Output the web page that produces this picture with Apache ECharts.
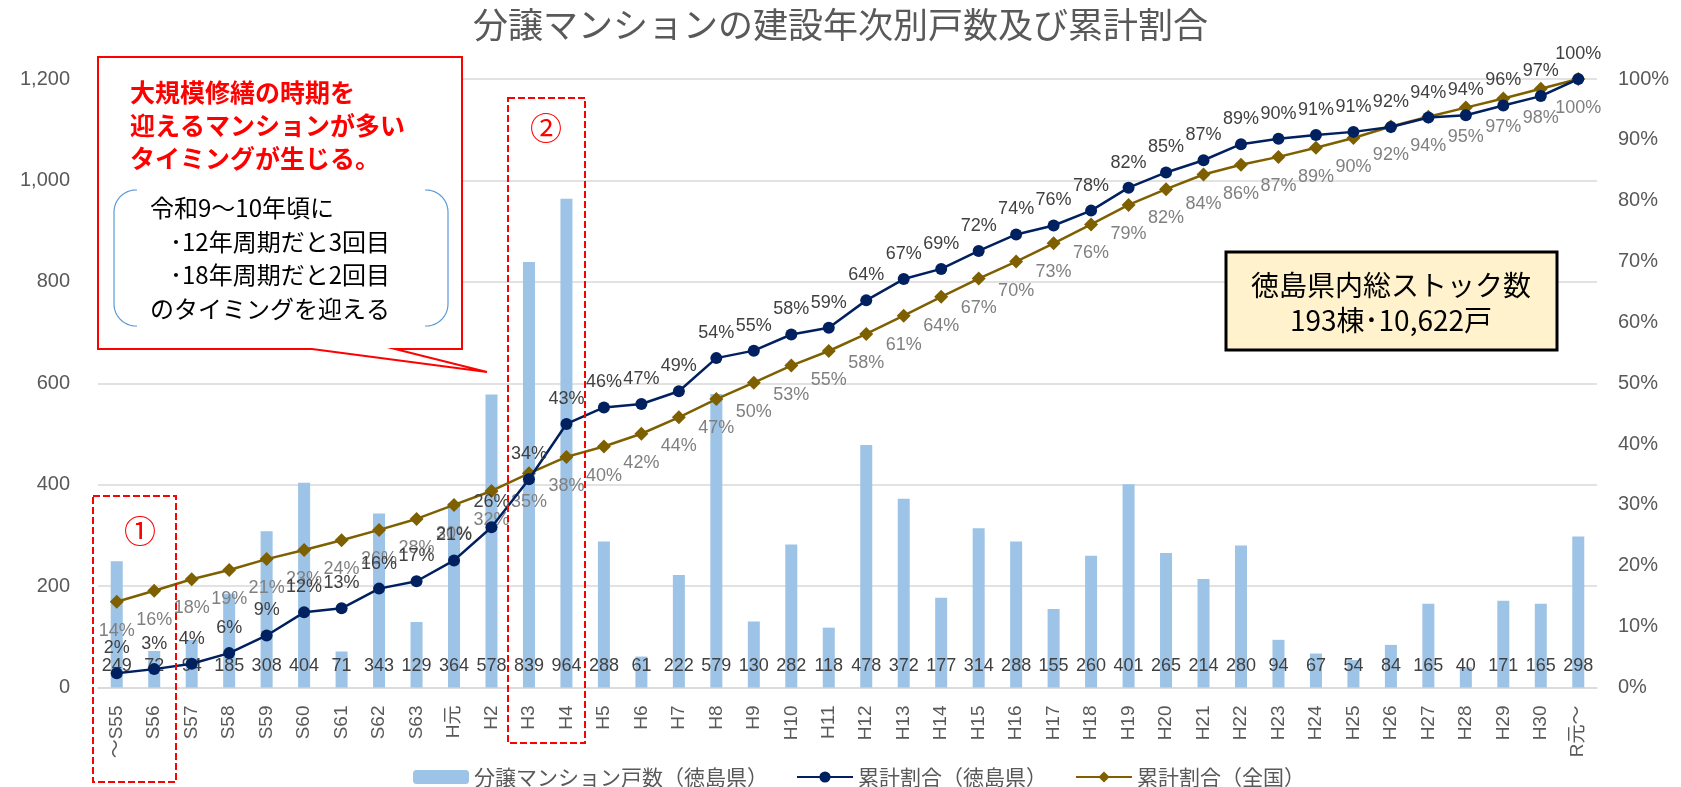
<!DOCTYPE html>
<html lang="ja">
<head>
<meta charset="utf-8">
<title>分譲マンションの建設年次別戸数及び累計割合</title>
<script src="https://cdn.jsdelivr.net/npm/echarts@6/dist/echarts.min.js"></script>
<style>
  html, body { margin: 0; padding: 0; background: #fff; }
  #chart { width: 1681px; height: 787px; }
</style>
</head>
<body>
<div id="chart"></div>
<script>
// 建設年次（和暦）
const categories = [
  '〜S55', 'S56', 'S57', 'S58', 'S59', 'S60', 'S61', 'S62', 'S63', 'H元',
  'H2', 'H3', 'H4', 'H5', 'H6', 'H7', 'H8', 'H9', 'H10', 'H11',
  'H12', 'H13', 'H14', 'H15', 'H16', 'H17', 'H18', 'H19', 'H20', 'H21',
  'H22', 'H23', 'H24', 'H25', 'H26', 'H27', 'H28', 'H29', 'H30', 'R元〜'
];

// 分譲マンション戸数（徳島県）
const units = [
  249, 72, 94, 185, 308, 404, 71, 343, 129, 364,
  578, 839, 964, 288, 61, 222, 579, 130, 282, 118,
  478, 372, 177, 314, 288, 155, 260, 401, 265, 214,
  280, 94, 67, 54, 84, 165, 40, 171, 165, 298
];

// 累計割合（徳島県）
const shareTokushima = [
  0.0234, 0.0302, 0.0391, 0.0565, 0.0855, 0.1235, 0.1302, 0.1625, 0.1746, 0.2089,
  0.2633, 0.3423, 0.4331, 0.4602, 0.4659, 0.4868, 0.5413, 0.5536, 0.5801, 0.5912,
  0.6362, 0.6712, 0.6879, 0.7175, 0.7446, 0.7592, 0.7837, 0.8214, 0.8464, 0.8665,
  0.8929, 0.9017, 0.9080, 0.9131, 0.9210, 0.9366, 0.9403, 0.9564, 0.9719, 1.0000
];

// 累計割合（全国）
const shareNation = [
  0.141, 0.159, 0.178, 0.193, 0.211, 0.226, 0.242, 0.259, 0.277, 0.300,
  0.323, 0.352, 0.379, 0.396, 0.417, 0.444, 0.474, 0.501, 0.529, 0.553,
  0.581, 0.611, 0.642, 0.672, 0.700, 0.730, 0.761, 0.793, 0.819, 0.843,
  0.859, 0.872, 0.887, 0.903, 0.922, 0.938, 0.953, 0.968, 0.984, 1.000
];

// 軸目盛
const unitTicks = { min: 0, max: 1200, interval: 200 };
const shareTicks = { min: 0, max: 1, interval: 0.1 };

const seriesNames = ['分譲マンション戸数（徳島県）', '累計割合（徳島県）', '累計割合（全国）'];

const NUM_FONT = '"Liberation Sans", "Noto Sans CJK JP", sans-serif';
const JP_FONT = '"Noto Sans CJK JP", "Liberation Sans", sans-serif';
const AXIS_GREY = '#595959';
const pct = v => Math.round(v * 100) + '%';

// 角の丸い括弧（左右一対）の線を作る
function bracketPoints(xEdge, xEnd, yTop, yBottom, r) {
  const pts = [];
  const dir = xEnd > xEdge ? 1 : -1;
  const steps = 12;
  pts.push([xEnd, yTop]);
  for (let i = 0; i <= steps; i++) {
    const a = (Math.PI / 2) * (i / steps);
    pts.push([xEdge + dir * r * (1 - Math.sin(a)), yTop + r * (1 - Math.cos(a))]);
  }
  for (let i = 0; i <= steps; i++) {
    const a = (Math.PI / 2) * (i / steps);
    pts.push([xEdge + dir * r * (1 - Math.cos(a)), yBottom - r + r * Math.sin(a)]);
  }
  pts.push([xEnd, yBottom]);
  return pts;
}

function txt(text, x, y, font, fill, align) {
  return {
    type: 'text', z: 101,
    style: { text: text, x: x, y: y, font: font, fill: fill, align: align || 'left', verticalAlign: 'middle' }
  };
}

const redFont = 'bold 25px ' + JP_FONT;
const blackFont = '24px ' + JP_FONT;

const graphics = [
  // 吹き出し（大規模修繕）
  {
    type: 'polygon', z: 100,
    shape: { points: [[98, 57], [462, 57], [462, 349], [395, 349], [487, 372], [312, 349], [98, 349]] },
    style: { fill: '#ffffff', stroke: '#FF0000', lineWidth: 2 }
  },
  txt('大規模修繕の時期を', 130, 92, redFont, '#FF0000'),
  txt('迎えるマンションが多い', 130, 125, redFont, '#FF0000'),
  txt('タイミングが生じる。', 130, 158, redFont, '#FF0000'),
  {
    type: 'polyline', z: 101,
    shape: { points: bracketPoints(114, 137, 190, 326, 22) },
    style: { fill: null, stroke: '#5B9BD5', lineWidth: 1.2 }
  },
  {
    type: 'polyline', z: 101,
    shape: { points: bracketPoints(448, 425, 190, 326, 22) },
    style: { fill: null, stroke: '#5B9BD5', lineWidth: 1.2 }
  },
  txt('令和9～10年頃に', 150, 208, blackFont, '#000000'),
  txt('･12年周期だと3回目', 170, 242, blackFont, '#000000'),
  txt('･18年周期だと2回目', 170, 275, blackFont, '#000000'),
  txt('のタイミングを迎える', 150, 309, blackFont, '#000000'),

  // ① と ② の枠
  {
    type: 'rect', z: 100,
    shape: { x: 93, y: 496, width: 83, height: 286 },
    style: { fill: null, stroke: '#FF0000', lineWidth: 2, lineDash: [7, 3] }
  },
  txt('①', 140, 531, '32px ' + JP_FONT, '#FF0000', 'center'),
  {
    type: 'rect', z: 100,
    shape: { x: 508, y: 98, width: 77, height: 645 },
    style: { fill: null, stroke: '#FF0000', lineWidth: 2, lineDash: [7, 3] }
  },
  txt('②', 546, 128, '32px ' + JP_FONT, '#FF0000', 'center'),

  // 総ストック数
  {
    type: 'rect', z: 100,
    shape: { x: 1226, y: 252, width: 331, height: 98 },
    style: { fill: '#FFF2CC', stroke: '#000000', lineWidth: 3 }
  },
  txt('徳島県内総ストック数', 1391, 285, '28px ' + JP_FONT, '#000000', 'center'),
  txt('193棟･10,622戸', 1391, 320, '28px ' + JP_FONT, '#000000', 'center')
];

const chart = echarts.init(document.getElementById('chart'), null, { renderer: 'canvas' });

chart.setOption({
  animation: false,
  backgroundColor: '#ffffff',
  title: {
    text: '分譲マンションの建設年次別戸数及び累計割合',
    left: 'center',
    top: 6,
    padding: 0,
    textStyle: { fontFamily: JP_FONT, fontSize: 35, fontWeight: 'normal', color: AXIS_GREY, lineHeight: 38 }
  },
  legend: {
    data: seriesNames,
    left: 408,
    top: 759,
    itemWidth: 56,
    itemHeight: 14,
    itemGap: 28,
    textStyle: { fontFamily: JP_FONT, fontSize: 21, color: AXIS_GREY, lineHeight: 26 }
  },
  grid: { left: 98, right: 84, top: 79, bottom: 99.5, containLabel: false },
  xAxis: {
    type: 'category',
    data: categories,
    axisTick: { show: false },
    axisLine: { lineStyle: { color: '#D9D9D9', width: 1.5 } },
    axisLabel: {
      rotate: 90, interval: 0, margin: 18,
      fontFamily: NUM_FONT, fontSize: 19, color: AXIS_GREY
    }
  },
  yAxis: [
    {
      type: 'value',
      min: unitTicks.min, max: unitTicks.max, interval: unitTicks.interval,
      axisLine: { show: false }, axisTick: { show: false },
      splitLine: { lineStyle: { color: '#D9D9D9', width: 1.5 } },
      axisLabel: {
        margin: 28, fontFamily: NUM_FONT, fontSize: 20, color: AXIS_GREY,
        formatter: v => v.toLocaleString('en-US')
      }
    },
    {
      type: 'value',
      min: shareTicks.min, max: shareTicks.max, interval: shareTicks.interval,
      axisLine: { show: false }, axisTick: { show: false },
      splitLine: { show: false },
      axisLabel: {
        margin: 21, fontFamily: NUM_FONT, fontSize: 20, color: AXIS_GREY,
        formatter: v => Math.round(v * 100) + '%'
      }
    }
  ],
  series: [
    {
      name: seriesNames[0],
      type: 'bar',
      yAxisIndex: 0,
      data: units,
      barWidth: 12,
      itemStyle: { color: '#9DC3E6' },
      label: {
        show: true, position: 'insideBottom', distance: 12,
        fontFamily: NUM_FONT, fontSize: 18, color: '#404040'
      },
      z: 2
    },
    {
      name: seriesNames[1],
      type: 'line',
      yAxisIndex: 1,
      data: shareTokushima,
      symbol: 'circle',
      symbolSize: 12,
      lineStyle: { color: '#002060', width: 2.5 },
      itemStyle: { color: '#002060' },
      label: {
        show: true, position: 'top', distance: 10,
        fontFamily: NUM_FONT, fontSize: 18, color: '#404040',
        formatter: p => pct(p.value)
      },
      z: 4
    },
    {
      name: seriesNames[2],
      type: 'line',
      yAxisIndex: 1,
      data: shareNation,
      symbol: 'diamond',
      symbolSize: 14,
      lineStyle: { color: '#7F6000', width: 2.5 },
      itemStyle: { color: '#7F6000' },
      label: {
        show: true, position: 'bottom', distance: 13,
        fontFamily: NUM_FONT, fontSize: 18, color: '#808080',
        formatter: p => pct(p.value)
      },
      z: 3
    }
  ],
  graphic: graphics
});
</script>
</body>
</html>
